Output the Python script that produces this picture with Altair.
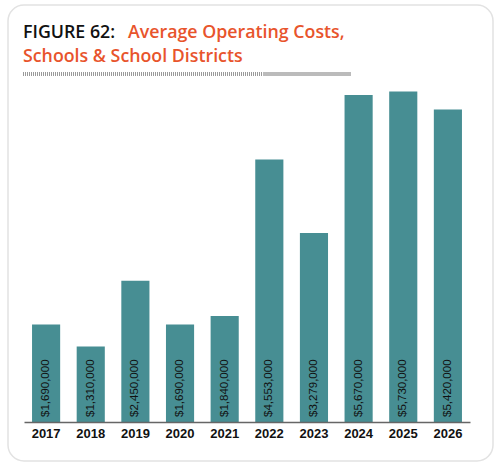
import altair as alt
import pandas as pd

years = ["2017", "2018", "2019", "2020", "2021", "2022", "2023", "2024", "2025", "2026"]
costs = [1690000, 1310000, 2450000, 1690000, 1840000, 4553000, 3279000, 5670000, 5730000, 5420000]
labels = ["$1,690,000", "$1,310,000", "$2,450,000", "$1,690,000", "$1,840,000",
          "$4,553,000", "$3,279,000", "$5,670,000", "$5,730,000", "$5,420,000"]

title_prefix = "FIGURE 62:"
title_line1 = "Average Operating Costs,"
title_line2 = "Schools & School Districts"

df = pd.DataFrame({"year": years, "cost": costs, "label": labels})
one = pd.DataFrame({"k": [0]})

W, H = 446, 346
BAR = "#478E93"
ORANGE = "#E8542C"
LAB = "Liberation Sans"
TFONT = "Open Sans"
TSIZE = 17.8

x_enc = alt.X("year:N", sort=years, title=None,
              scale=alt.Scale(paddingInner=0.37, paddingOuter=0.18),
              axis=alt.Axis(labelAngle=0, ticks=False, domainColor="#666666", domainWidth=1.5,
                            labelFont=LAB, labelFontWeight="bold", labelFontSize=13,
                            labelColor="#111111", labelPadding=5, zindex=2))
y_enc = alt.Y("cost:Q", title=None, scale=alt.Scale(domain=[0, 6000000], nice=False), axis=None)

card = alt.Chart(one).mark_rect(fill="white", stroke="#e2e2e2", strokeWidth=1.5,
                                cornerRadius=16, clip=False).encode(
    x=alt.value(-16), x2=alt.value(469), y=alt.value(-71), y2=alt.value(385))

bars = alt.Chart(df).mark_bar(color=BAR).encode(x=x_enc, y=y_enc)

text = alt.Chart(df).mark_text(angle=270, align="left", baseline="middle", dx=5,
                               font=LAB, fontSize=11.5, color="#111111").encode(
    x=alt.X("year:N", sort=years), y=alt.datum(0), text="label:N")

t0 = alt.Chart(one).mark_text(align="left", baseline="alphabetic", font=TFONT, fontSize=TSIZE,
                              fontWeight=600, color="#111111", text=title_prefix).encode(
    x=alt.value(-1), y=alt.value(-38))
t1 = alt.Chart(one).mark_text(align="left", baseline="alphabetic", font=TFONT, fontSize=TSIZE,
                              fontWeight=600, color=ORANGE, text=title_line1).encode(
    x=alt.value(104), y=alt.value(-38))
t2 = alt.Chart(one).mark_text(align="left", baseline="alphabetic", font=TFONT, fontSize=TSIZE,
                              fontWeight=600, color=ORANGE, text=title_line2).encode(
    x=alt.value(-1), y=alt.value(-14))

rule_a = alt.Chart(one).mark_rule(color="#9a9a9a", strokeWidth=4, strokeDash=[1, 1]).encode(
    x=alt.value(-1), x2=alt.value(239), y=alt.value(-2))
rule_b = alt.Chart(one).mark_rule(color="#bbbbbb", strokeWidth=4).encode(
    x=alt.value(239), x2=alt.value(327), y=alt.value(-2))

chart = alt.layer(card, rule_a, rule_b, t0, t1, t2, bars, text).properties(
    width=W, height=H,
    padding={"left": 24, "top": 76, "right": 30, "bottom": 46},
    autosize=alt.AutoSizeParams(type="none"),
    background="white",
).configure_view(stroke=None)

chart.save("out.html", embed_options={"renderer": "svg", "actions": False})
